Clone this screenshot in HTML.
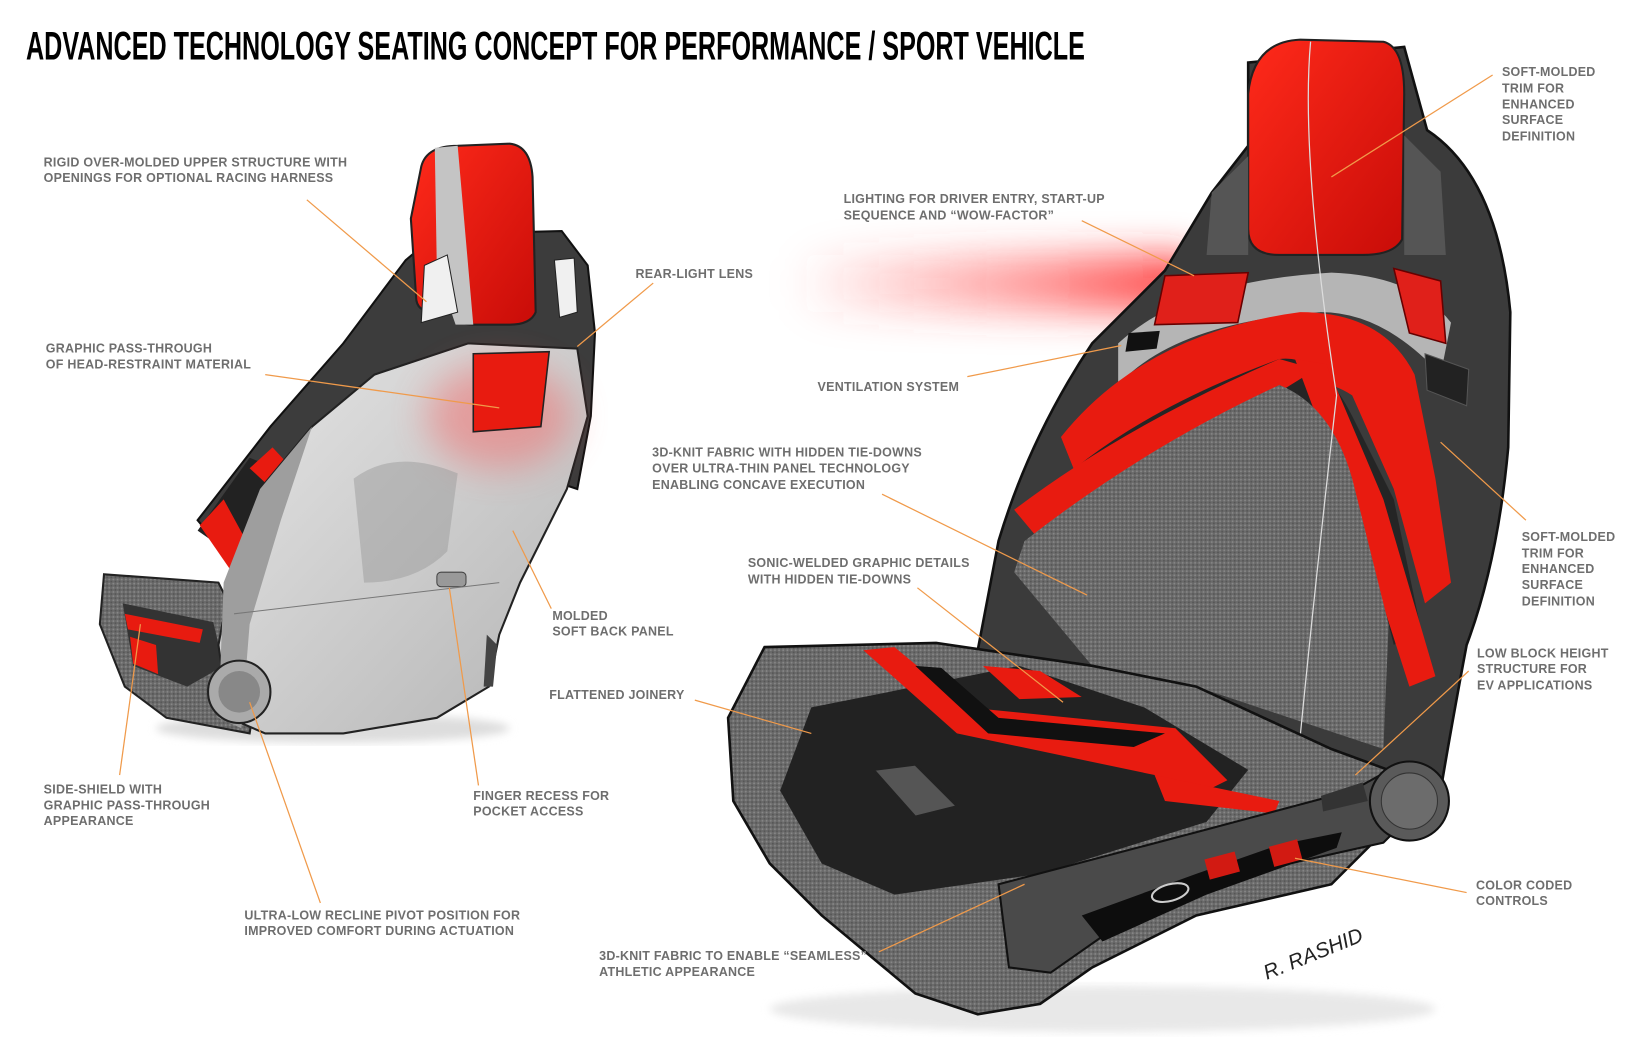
<!DOCTYPE html>
<html><head><meta charset="utf-8"><style>
html,body{margin:0;padding:0;background:#fff;}
svg{display:block;}
.l{font-family:"Liberation Sans",sans-serif;font-weight:bold;font-size:12px;fill:#6e6e6e;letter-spacing:0.25px;}
.ln{stroke:#f09a4a;stroke-width:1.2;fill:none;}
</style></head><body>
<svg width="1632" height="1056" viewBox="0 0 1569 1015" xmlns="http://www.w3.org/2000/svg">
<defs>
<pattern id="knit" width="4" height="4" patternUnits="userSpaceOnUse">
<rect width="4" height="4" fill="#6a6a6a"/><circle cx="1" cy="1" r="0.9" fill="#888"/><circle cx="3" cy="3" r="0.9" fill="#555"/>
</pattern>
<filter id="blur" x="-50%" y="-100%" width="200%" height="300%"><feGaussianBlur stdDeviation="18"/></filter>
<filter id="blur2"><feGaussianBlur stdDeviation="4"/></filter>
<linearGradient id="redg" x1="0" y1="0" x2="1" y2="1"><stop offset="0" stop-color="#ff2a1a"/><stop offset="1" stop-color="#c80c08"/></linearGradient>
<linearGradient id="glow" x1="0" y1="0" x2="1" y2="0"><stop offset="0" stop-color="#ff4040" stop-opacity="0"/><stop offset="0.5" stop-color="#ff4040" stop-opacity="0.45"/><stop offset="1" stop-color="#ff2020" stop-opacity="0.9"/></linearGradient>
<linearGradient id="grayg" x1="0" y1="0" x2="1" y2="1"><stop offset="0" stop-color="#e6e6e6"/><stop offset="1" stop-color="#b4b4b4"/></linearGradient>
</defs>

<text x="25" y="57" font-family="Liberation Sans Narrow, Liberation Sans, sans-serif" font-weight="bold" font-size="38" textLength="1018" lengthAdjust="spacingAndGlyphs" fill="#000">ADVANCED TECHNOLOGY SEATING CONCEPT FOR PERFORMANCE / SPORT VEHICLE</text>

<!-- LEFT SEAT -->
<ellipse cx="320" cy="700" rx="170" ry="14" fill="#ddd" filter="url(#blur2)"/>
<path d="M100 552 L210 560 L250 640 L240 705 L160 690 L120 660 L96 600 Z" fill="url(#knit)" stroke="#222" stroke-width="2"/>
<path d="M118 580 L205 598 L215 640 L180 660 L128 640 Z" fill="#333"/>
<path d="M120 590 L195 605 L192 618 L123 605 Z" fill="#e81b10"/>
<path d="M125 612 L150 620 L152 648 L128 638 Z" fill="#e81b10"/>
<path d="M190 500 L260 410 L330 330 L390 250 L420 225 L540 222 L565 255 L572 320 L568 400 L555 470 L480 445 L300 470 L240 560 Z" fill="#3c3c3c" stroke="#111" stroke-width="2"/>
<path d="M190 510 L240 440 L290 460 L240 545 Z" fill="#222"/>
<path d="M192 505 L215 480 L245 535 L230 560 Z" fill="#e81b10"/>
<path d="M240 450 L262 430 L290 460 L270 478 Z" fill="#e81b10"/>
<path d="M250 470 L300 410 L360 360 L450 330 L555 335 L565 400 L545 470 L520 520 L500 560 L480 610 L470 660 L420 690 L330 705 L255 705 L220 690 L210 620 L225 540 Z" fill="url(#grayg)" stroke="#222" stroke-width="2"/>
<path d="M215 560 L250 470 L300 410 L270 500 L240 600 L232 700 L210 690 Z" fill="#9e9e9e"/>
<ellipse cx="480" cy="400" rx="70" ry="50" fill="#ff5050" opacity="0.4" filter="url(#blur)"/>
<path d="M455 340 L528 338 L520 410 L455 415 Z" fill="#e81b10" stroke="#222" stroke-width="1.5"/>
<path d="M405 160 Q410 140 440 140 L490 138 Q510 140 512 170 L515 300 Q510 312 490 312 L455 312 Q440 312 438 300 L418 300 Q400 300 400 285 L395 210 Z" fill="url(#redg)" stroke="#222" stroke-width="2"/>
<path d="M418 142 L440 140 L455 312 L438 312 L420 260 Z" fill="#c4c4c4"/>
<path d="M408 255 L430 245 L440 300 L405 310 Z" fill="#f0f0f0" stroke="#222"/>
<path d="M533 250 L552 248 L555 300 L538 305 Z" fill="#f0f0f0" stroke="#222"/>
<path d="M340 460 Q380 430 440 455 L430 530 Q400 560 350 560 Z" fill="#9b9b9b" opacity="0.5"/>
<rect x="420" y="550" width="28" height="14" rx="4" fill="#999" stroke="#444"/>
<path d="M225 590 L480 560" stroke="#777" fill="none"/>
<circle cx="230" cy="665" r="30" fill="#aaa" stroke="#222" stroke-width="2"/>
<circle cx="230" cy="665" r="20" fill="#888"/>
<path d="M468 610 L478 620 L474 660 L465 660 Z" fill="#444"/>

<!-- RIGHT SEAT -->
<ellipse cx="1060" cy="970" rx="320" ry="22" fill="#e8e8e8" filter="url(#blur2)"/>
<rect x="760" y="245" width="400" height="55" rx="27" fill="url(#glow)" filter="url(#blur)"/>
<path d="M1200 60 L1350 45 L1372 125 Q1440 170 1452 300 L1450 430 Q1440 540 1410 620 Q1395 700 1385 760 L1330 740 L1050 660 L940 625 L960 520 Q990 420 1050 330 L1120 260 L1165 185 L1200 140 Z" fill="#3b3b3b" stroke="#111" stroke-width="2.5"/>
<path d="M1075 330 Q1140 270 1280 262 Q1360 265 1395 310 L1385 360 Q1330 300 1270 300 Q1130 310 1075 370 Z" fill="#b5b5b5"/>
<path d="M1020 420 Q1100 320 1250 300 Q1330 300 1360 360 L1380 460 L1395 560 L1370 580 L1340 470 L1300 380 Q1240 340 1110 410 L1040 470 Z" fill="#e81b10"/>
<path d="M1000 480 Q1080 400 1230 345 Q1270 340 1300 400 L1340 480 L1365 600 L1340 620 L1310 500 Q1280 420 1230 400 Q1110 430 1000 520 Z" fill="#252525"/>
<path d="M975 490 Q1080 410 1230 345 L1265 355 Q1160 420 1000 520 Z" fill="#e81b10"/>
<path d="M1245 345 L1275 350 L1330 480 L1380 650 L1355 660 L1310 520 Z" fill="#e81b10"/>
<path d="M985 520 Q1100 430 1230 370 Q1280 390 1300 460 L1335 600 L1330 720 L1150 660 L1050 640 L975 550 Z" fill="url(#knit)"/>
<path d="M1120 265 L1200 262 L1190 310 L1110 312 Z" fill="#e0201a" stroke="#600" stroke-width="1.5"/>
<path d="M1340 258 L1385 270 L1390 330 L1355 320 Z" fill="#e0201a" stroke="#600" stroke-width="1.5"/>
<path d="M1085 320 L1115 318 L1112 335 L1082 338 Z" fill="#111"/>
<path d="M1370 340 L1412 355 L1410 390 L1372 375 Z" fill="#222" stroke="#555"/>
<path d="M1200 90 Q1205 40 1250 38 L1330 40 Q1350 45 1350 90 L1348 230 Q1340 245 1310 245 L1230 245 Q1200 245 1200 220 Z" fill="url(#redg)" stroke="#222" stroke-width="2"/>
<path d="M1165 185 L1200 150 L1200 245 L1160 245 Z" fill="#555"/>
<path d="M1350 130 L1385 165 L1390 245 L1350 245 Z" fill="#555"/>
<path d="M1260 40 Q1250 150 1285 380 Q1260 600 1245 760" stroke="#ddd" stroke-width="1.2" fill="none"/>
<path d="M735 622 L900 618 L1050 640 L1150 660 L1280 720 L1340 742 L1330 800 L1280 850 L1150 880 L1050 930 L1000 965 L940 975 L880 955 L850 930 L790 880 L740 830 L705 770 L700 690 Z" fill="url(#knit)" stroke="#111" stroke-width="2.5"/>
<path d="M780 680 L980 640 L1100 680 L1200 740 L1160 790 L1000 840 L860 860 L790 830 L750 760 Z" fill="#222"/>
<path d="M830 625 L860 622 L930 680 L1130 700 L1180 750 L1140 770 L1110 745 L920 705 Z" fill="#e81b10"/>
<path d="M880 640 L905 642 L960 690 L1120 705 L1090 718 L950 705 Z" fill="#111"/>
<path d="M1110 745 L1230 770 L1225 782 L1120 770 Z" fill="#e81b10"/>
<path d="M945 640 L1000 645 L1040 670 L980 672 Z" fill="#e81b10"/>
<path d="M960 850 L1150 800 L1300 760 L1345 735 L1360 780 L1330 810 L1240 830 L1130 860 L1060 900 L1010 935 L970 930 Z" fill="#4a4a4a" stroke="#111" stroke-width="2"/>
<path d="M1040 880 L1150 840 L1230 812 L1290 800 L1285 815 L1160 860 L1060 905 Z" fill="#0d0d0d"/>
<rect x="1160" y="822" width="30" height="20" fill="#d21a12" transform="rotate(-15 1175 832)"/>
<rect x="1222" y="810" width="28" height="20" fill="#d21a12" transform="rotate(-15 1236 820)"/>
<ellipse cx="1125" cy="858" rx="18" ry="8" fill="none" stroke="#ccc" stroke-width="2" transform="rotate(-15 1125 858)"/>
<path d="M840 740 L880 735 L920 775 L880 785 Z" fill="#555" stroke="#222" stroke-width="2"/>
<circle cx="1355" cy="770" r="38" fill="#5a5a5a" stroke="#111" stroke-width="2"/>
<circle cx="1355" cy="770" r="27" fill="#6c6c6c" stroke="#333"/>
<path d="M1270 765 L1310 752 L1315 770 L1272 780 Z" fill="#333"/>
<text x="1218" y="942" font-family="Liberation Sans, sans-serif" font-style="italic" font-size="20" fill="#222" transform="rotate(-22 1218 942)">R. RASHID</text>

<g class="ln">
<line x1="295" y1="192" x2="410" y2="290"/>
<line x1="628" y1="272" x2="555" y2="333"/>
<line x1="255" y1="360" x2="480" y2="392"/>
<line x1="530" y1="585" x2="493" y2="510"/>
<line x1="668" y1="673" x2="780" y2="705"/>
<line x1="115" y1="745" x2="135" y2="600"/>
<line x1="460" y1="755" x2="432" y2="565"/>
<line x1="308" y1="868" x2="240" y2="675"/>
<line x1="1040" y1="212" x2="1148" y2="265"/>
<line x1="930" y1="362" x2="1078" y2="332"/>
<line x1="848" y1="475" x2="1045" y2="572"/>
<line x1="882" y1="565" x2="1022" y2="675"/>
<line x1="845" y1="915" x2="985" y2="850"/>
<line x1="1435" y1="72" x2="1280" y2="170"/>
<line x1="1467" y1="500" x2="1385" y2="425"/>
<line x1="1412" y1="645" x2="1303" y2="745"/>
<line x1="1410" y1="858" x2="1245" y2="825"/>
</g>

<g class="l">
<text x="42" y="160">RIGID OVER-MOLDED UPPER STRUCTURE WITH</text>
<text x="42" y="175">OPENINGS FOR OPTIONAL RACING HARNESS</text>
<text x="611" y="267">REAR-LIGHT LENS</text>
<text x="44" y="339">GRAPHIC PASS-THROUGH</text>
<text x="44" y="354">OF HEAD-RESTRAINT MATERIAL</text>
<text x="531" y="596">MOLDED</text>
<text x="531" y="611">SOFT BACK PANEL</text>
<text x="528" y="672">FLATTENED JOINERY</text>
<text x="42" y="763">SIDE-SHIELD WITH</text>
<text x="42" y="778">GRAPHIC PASS-THROUGH</text>
<text x="42" y="793">APPEARANCE</text>
<text x="455" y="769">FINGER RECESS FOR</text>
<text x="455" y="784">POCKET ACCESS</text>
<text x="235" y="884">ULTRA-LOW RECLINE PIVOT POSITION FOR</text>
<text x="235" y="899">IMPROVED COMFORT DURING ACTUATION</text>
<text x="811" y="195">LIGHTING FOR DRIVER ENTRY, START-UP</text>
<text x="811" y="211">SEQUENCE AND “WOW-FACTOR”</text>
<text x="786" y="376">VENTILATION SYSTEM</text>
<text x="627" y="439">3D-KNIT FABRIC WITH HIDDEN TIE-DOWNS</text>
<text x="627" y="454">OVER ULTRA-THIN PANEL TECHNOLOGY</text>
<text x="627" y="470">ENABLING CONCAVE EXECUTION</text>
<text x="719" y="545">SONIC-WELDED GRAPHIC DETAILS</text>
<text x="719" y="561">WITH HIDDEN TIE-DOWNS</text>
<text x="576" y="923">3D-KNIT FABRIC TO ENABLE “SEAMLESS”</text>
<text x="576" y="938">ATHLETIC APPEARANCE</text>
<text x="1444" y="73">SOFT-MOLDED</text>
<text x="1444" y="89">TRIM FOR</text>
<text x="1444" y="104">ENHANCED</text>
<text x="1444" y="119">SURFACE</text>
<text x="1444" y="135">DEFINITION</text>
<text x="1463" y="520">SOFT-MOLDED</text>
<text x="1463" y="536">TRIM FOR</text>
<text x="1463" y="551">ENHANCED</text>
<text x="1463" y="566">SURFACE</text>
<text x="1463" y="582">DEFINITION</text>
<text x="1420" y="632">LOW BLOCK HEIGHT</text>
<text x="1420" y="647">STRUCTURE FOR</text>
<text x="1420" y="663">EV APPLICATIONS</text>
<text x="1419" y="855">COLOR CODED</text>
<text x="1419" y="870">CONTROLS</text>
</g>
</svg>
</body></html>
